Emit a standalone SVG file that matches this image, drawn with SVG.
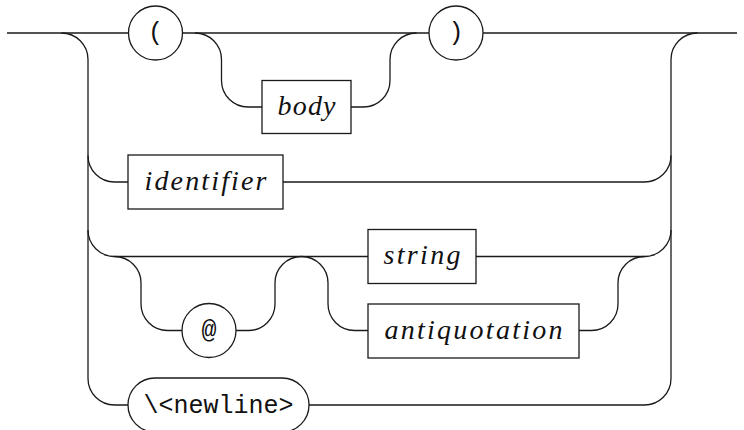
<svg xmlns="http://www.w3.org/2000/svg" width="744" height="430" viewBox="0 0 744 430">
<style>
.c{fill:none;stroke:#1a1a1a;stroke-width:1.3}
.n{fill:#fff;stroke:#1a1a1a;stroke-width:1.3}
.it{font-family:'Liberation Serif','DejaVu Serif','Times New Roman',serif;font-style:italic;font-size:28px;fill:#111;text-anchor:middle}
.tt{font-family:'Liberation Mono','DejaVu Sans Mono','Courier New',monospace;font-size:25px;fill:#111;text-anchor:middle}
</style>
<rect width="744" height="430" fill="#fff"/>
<g id="connectors" class="c">
<path d="M7,33 H128"/>
<path d="M183,33 H429"/>
<path d="M483,33 H737"/>
<path d="M195,33 A26.5,26.5 0 0 1 221.5,59.5 V80.5 A26.5,26.5 0 0 0 248,107 H262"/>
<path d="M351,107 H363.5 A26.5,26.5 0 0 0 390,80.5 V59.5 A26.5,26.5 0 0 1 416.5,33"/>
<path d="M61.5,33 A26.5,26.5 0 0 1 88,59.5 V378.5 A26.5,26.5 0 0 0 114.5,405 H128"/>
<path d="M88,155.5 A26.5,26.5 0 0 0 114.5,182 H128"/>
<path d="M88,230 A26.5,26.5 0 0 0 114.5,256.5 H368"/>
<path d="M114.5,256.5 A26.5,26.5 0 0 1 141,283 V304 A26.5,26.5 0 0 0 167.5,330.5 H182"/>
<path d="M236,330.5 H248.5 A26.5,26.5 0 0 0 275,304 V283 A26.5,26.5 0 0 1 301.5,256.5"/>
<path d="M301.5,256.5 A26.5,26.5 0 0 1 328,283 V304 A26.5,26.5 0 0 0 354.5,330.5 H368"/>
<path d="M476,256.5 H644.5 A26.5,26.5 0 0 0 671,230"/>
<path d="M579,330.5 H591.5 A26.5,26.5 0 0 0 618,304 V283 A26.5,26.5 0 0 1 644.5,256.5"/>
<path d="M283,182 H644.5 A26.5,26.5 0 0 0 671,155.5"/>
<path d="M309,405 H644.5 A26.5,26.5 0 0 0 671,378.5 V59.5 A26.5,26.5 0 0 1 697.5,33"/>
</g>
<g id="lparen"><circle class="n" cx="155.5" cy="33" r="27"/><text class="tt" x="155.5" y="40">(</text></g>
<g id="rparen"><circle class="n" cx="456" cy="33" r="27"/><text class="tt" x="456" y="40">)</text></g>
<g id="body"><rect class="n" x="262" y="80.5" width="89" height="53"/><text class="it" x="306.5" y="115" font-family="Liberation Serif" textLength="58" lengthAdjust="spacing">body</text></g>
<g id="identifier"><rect class="n" x="128" y="155" width="155" height="54"/><text class="it" x="205.5" y="190" font-family="Liberation Serif" textLength="122" lengthAdjust="spacing">identifier</text></g>
<g id="string"><rect class="n" x="368" y="229.5" width="108" height="54"/><text class="it" x="422" y="264" font-family="Liberation Serif" textLength="77" lengthAdjust="spacing">string</text></g>
<g id="at"><circle class="n" cx="209" cy="330.5" r="27"/><text class="tt" x="209" y="338">@</text></g>
<g id="antiquotation"><rect class="n" x="368" y="304" width="211" height="54"/><text class="it" x="473.5" y="339" font-family="Liberation Serif" textLength="178" lengthAdjust="spacing">antiquotation</text></g>
<g id="newline"><rect class="n" x="128" y="378" width="181" height="54" rx="27" ry="27"/><text class="tt" x="218.5" y="413">\&lt;newline&gt;</text></g>
</svg>
